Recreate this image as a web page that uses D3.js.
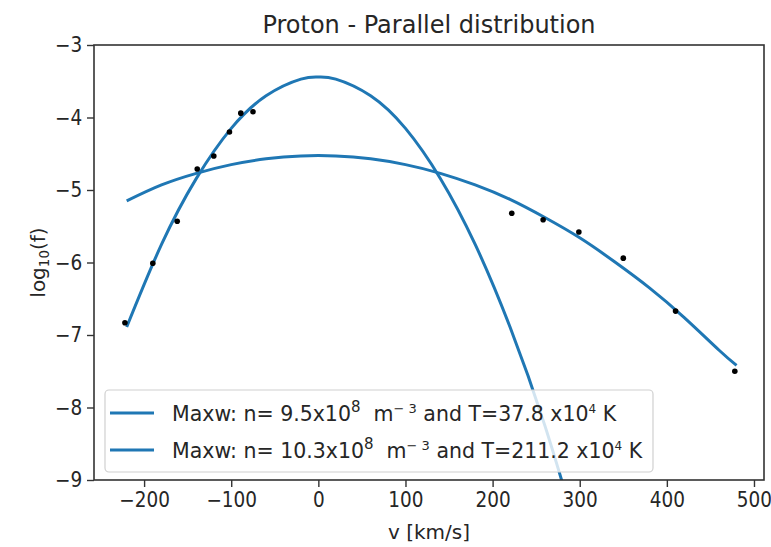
<!DOCTYPE html>
<html>
<head>
<meta charset="utf-8">
<script src="https://cdn.jsdelivr.net/npm/d3@7"></script>
<style>
  body { margin: 0; background: #fff; }
  text { font-family: "DejaVu Sans", sans-serif; fill: #262626; }
</style>
</head>
<body>
<svg id="chart" width="771" height="547"></svg>
<script>
// measured points (black dots)
const obsV = [-222, -190, -162, -139, -120, -102, -89, -75, 222, 258, 299, 350, 410, 478]
const obsF = [-6.83, -6.01, -5.43, -4.71, -4.53, -4.20, -3.94, -3.92, -5.32, -5.41, -5.58, -5.94, -6.67, -7.50]

// fitted curve 1 (T=37.8 x10^4 K)
const fit1V = [-220, -180, -140, -100, -60, -20, 0, 20, 60, 100, 140, 180, 220, 260, 300]
const fit1F = [-6.89, -5.75, -4.84, -4.15, -3.70, -3.47, -3.44, -3.47, -3.70, -4.15, -4.84, -5.75, -6.89, -8.25, -9.85]

// fitted curve 2 (T=211.2 x10^4 K)
const fit2V = [-220, -180, -140, -100, -60, -20, 20, 60, 100, 140, 180, 220, 260, 300, 340, 380, 420, 460, 480]
const fit2F = [-5.15, -4.93, -4.77, -4.65, -4.57, -4.53, -4.53, -4.57, -4.65, -4.77, -4.93, -5.13, -5.38, -5.66, -5.99, -6.35, -6.76, -7.21, -7.42]

const xTicks = [-200, -100, 0, 100, 200, 300, 400, 500]
const yTicks = [-9, -8, -7, -6, -5, -4, -3]

const BLUE = "#1f77b4"
const M = {left: 94, right: 764, top: 45, bottom: 480}

let svg = d3.select("#chart")

let x = d3.scaleLinear().domain([-257.5, 511.5]).range([M.left, M.right])
let y = d3.scaleLinear().domain([-9, -3]).range([M.bottom, M.top])

svg.append("defs").append("clipPath").attr("id", "plot")
  .append("rect")
    .attr("x", M.left).attr("y", M.top)
    .attr("width", M.right - M.left).attr("height", M.bottom - M.top)

let plot = svg.append("g").attr("clip-path", "url(#plot)")

let line = d3.line()
  .x(d => x(d[0]))
  .y(d => y(d[1]))
  .curve(d3.curveNatural)

plot.append("path")
  .datum(d3.zip(fit1V, fit1F))
  .attr("d", line)
  .attr("fill", "none").attr("stroke", BLUE).attr("stroke-width", 3)

plot.append("path")
  .datum(d3.zip(fit2V, fit2F))
  .attr("d", line)
  .attr("fill", "none").attr("stroke", BLUE).attr("stroke-width", 3)

plot.selectAll("circle.obs")
  .data(d3.zip(obsV, obsF))
  .join("circle")
    .attr("class", "obs")
    .attr("cx", d => x(d[0]))
    .attr("cy", d => y(d[1]))
    .attr("r", 2.8)
    .attr("fill", "#000")

// axes
let xAxis = svg.append("g")
  .attr("transform", `translate(0,${M.bottom})`)
  .call(d3.axisBottom(x).tickValues(xTicks).tickSize(7).tickPadding(5))
let yAxis = svg.append("g")
  .attr("transform", `translate(${M.left},0)`)
  .call(d3.axisLeft(y).tickValues(yTicks).tickFormat(d3.format("d")).tickSize(7).tickPadding(6))

for (let ax of [xAxis, yAxis]) {
  ax.select(".domain").remove()
  ax.selectAll("line").attr("stroke", "#333").attr("stroke-width", 1.4)
  ax.selectAll("text").attr("font-size", 20.5).attr("fill", "#262626")
    .attr("font-family", "DejaVu Sans")
}
// tick labels in the picture are a bit narrow
xAxis.selectAll("text").attr("transform", "scale(0.9,1)")
yAxis.selectAll("text").attr("transform", "scale(0.9,1)")

// frame
svg.append("rect")
  .attr("x", M.left).attr("y", M.top)
  .attr("width", M.right - M.left).attr("height", M.bottom - M.top)
  .attr("fill", "none").attr("stroke", "#333").attr("stroke-width", 1.6)

// legend
let lg = svg.append("g")
lg.append("rect")
  .attr("x", 105).attr("y", 390).attr("width", 548).attr("height", 82)
  .attr("rx", 4)
  .attr("fill", "#fff").attr("fill-opacity", 0.8)
  .attr("stroke", "#d0d0d0").attr("stroke-width", 1.2)

const legendRows = [
  {n: "9.5", T: "37.8"},
  {n: "10.3", T: "211.2"}
]
legendRows.forEach((r, i) => {
  let ly = 413 + i * 37
  lg.append("line")
    .attr("x1", 110).attr("x2", 154).attr("y1", ly).attr("y2", ly)
    .attr("stroke", BLUE).attr("stroke-width", 3)
  let t = lg.append("text")
    .attr("x", 172).attr("y", ly + 7.5)
    .attr("font-size", 20.5)
  t.append("tspan").text(`Maxw: n= ${r.n}x10`)
  t.append("tspan").attr("font-size", 15).attr("dy", -9).text("8")
  t.append("tspan").attr("dy", 9).text("\u00a0 m")
  t.append("tspan").attr("font-size", 13).attr("dy", -8).text("− 3")
  t.append("tspan").attr("dy", 8).text(` and T=${r.T} x10`)
  t.append("tspan").attr("font-size", 12).attr("dy", -8).text("4")
  t.append("tspan").attr("dy", 8).text(" K")
})

// title + labels
svg.append("text")
  .attr("x", (M.left + M.right) / 2).attr("y", 33)
  .attr("text-anchor", "middle").attr("font-size", 24)
  .text("Proton - Parallel distribution")

svg.append("text")
  .attr("x", (M.left + M.right) / 2).attr("y", 539)
  .attr("text-anchor", "middle").attr("font-size", 20)
  .text("v [km/s]")

let yl = svg.append("text")
  .attr("transform", `translate(45,${(M.top + M.bottom) / 2}) rotate(-90)`)
  .attr("text-anchor", "middle").attr("font-size", 20)
yl.append("tspan").text("log")
yl.append("tspan").attr("font-size", 13.5).attr("dy", 4).text("10")
yl.append("tspan").attr("dy", -4).text("(f)")
</script>
</body>
</html>
